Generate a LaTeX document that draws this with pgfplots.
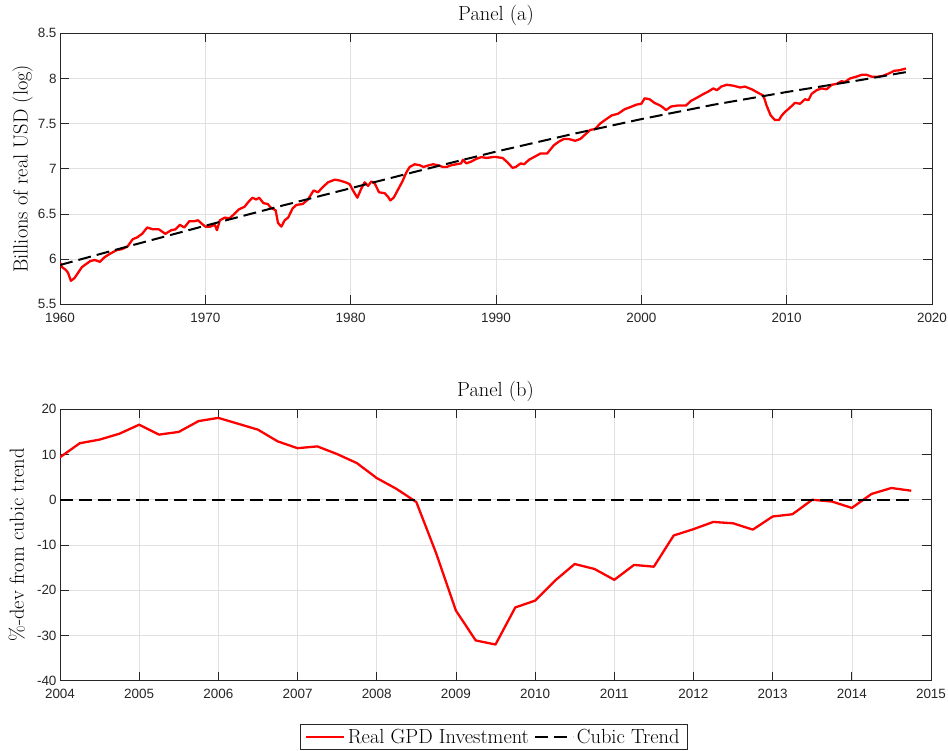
\documentclass[border=0pt]{standalone}
\usepackage{pgfplots}
\pgfplotsset{compat=1.18}
\usepackage{fontspec}
\newfontfamily\ticksf{Liberation Sans}
\definecolor{axgray}{gray}{0.15}
\definecolor{gridgray}{gray}{0.88}
\newcommand\bigf{\fontsize{20.5}{24}\selectfont}
\newcommand\tickf{\ticksf\fontsize{13.5}{16}\selectfont}

\pgfplotstableread{
x y
1960.00 5.96
1960.15 5.91
1960.40 5.88
1960.55 5.85
1960.75 5.76
1961.00 5.79
1961.50 5.91
1961.75 5.94
1962.10 5.98
1962.40 5.99
1962.75 5.97
1963.05 6.02
1963.45 6.06
1963.90 6.10
1964.25 6.11
1964.65 6.14
1965.00 6.22
1965.30 6.24
1965.65 6.28
1966.00 6.35
1966.40 6.33
1966.80 6.33
1967.25 6.28
1967.65 6.32
1967.95 6.33
1968.25 6.38
1968.55 6.35
1968.90 6.42
1969.25 6.42
1969.50 6.43
1969.70 6.40
1970.00 6.36
1970.35 6.36
1970.65 6.38
1970.80 6.32
1971.00 6.43
1971.35 6.46
1971.65 6.45
1972.00 6.50
1972.30 6.55
1972.70 6.58
1973.00 6.64
1973.25 6.68
1973.50 6.66
1973.70 6.68
1974.00 6.62
1974.30 6.61
1974.50 6.57
1974.84 6.54
1975.00 6.40
1975.23 6.36
1975.46 6.43
1975.70 6.46
1976.00 6.56
1976.26 6.60
1976.70 6.61
1977.06 6.66
1977.45 6.76
1977.75 6.74
1978.10 6.80
1978.44 6.85
1978.90 6.88
1979.25 6.87
1979.65 6.85
1979.93 6.83
1980.16 6.76
1980.46 6.68
1980.73 6.78
1980.96 6.85
1981.20 6.81
1981.42 6.86
1981.65 6.84
1981.95 6.74
1982.34 6.73
1982.57 6.69
1982.73 6.65
1982.96 6.68
1983.26 6.77
1983.56 6.86
1983.83 6.96
1984.06 7.02
1984.40 7.05
1984.75 7.04
1985.00 7.02
1985.40 7.04
1985.67 7.05
1986.00 7.04
1986.35 7.02
1986.60 7.02
1986.93 7.04
1987.27 7.05
1987.60 7.06
1987.73 7.10
1987.96 7.06
1988.30 7.08
1988.65 7.11
1989.00 7.13
1989.33 7.12
1989.80 7.13
1990.00 7.13
1990.45 7.12
1990.80 7.07
1991.14 7.01
1991.36 7.02
1991.70 7.06
1991.93 7.05
1992.27 7.10
1992.73 7.14
1993.07 7.17
1993.52 7.17
1993.98 7.26
1994.32 7.30
1994.66 7.33
1995.00 7.33
1995.45 7.31
1995.80 7.33
1996.14 7.38
1996.48 7.43
1996.82 7.44
1997.16 7.50
1997.50 7.54
1997.95 7.59
1998.40 7.61
1998.86 7.66
1999.20 7.68
1999.66 7.71
2000.00 7.72
2000.23 7.78
2000.57 7.77
2000.90 7.73
2001.30 7.70
2001.48 7.68
2001.70 7.65
2002.05 7.69
2002.50 7.70
2003.07 7.70
2003.40 7.75
2003.86 7.79
2004.30 7.83
2004.66 7.86
2004.96 7.89
2005.20 7.87
2005.50 7.91
2005.87 7.93
2006.33 7.92
2006.80 7.90
2007.13 7.91
2007.60 7.88
2008.05 7.84
2008.40 7.81
2008.62 7.70
2008.90 7.59
2009.20 7.54
2009.47 7.54
2009.66 7.59
2009.89 7.63
2010.18 7.67
2010.57 7.73
2010.92 7.72
2011.26 7.77
2011.50 7.76
2011.72 7.83
2012.06 7.87
2012.40 7.89
2012.75 7.88
2013.10 7.93
2013.44 7.94
2013.78 7.97
2014.00 7.96
2014.36 8.00
2014.80 8.02
2015.16 8.04
2015.50 8.04
2015.85 8.02
2016.30 8.02
2016.65 8.03
2017.10 8.06
2017.40 8.085
2017.73 8.09
2018.20 8.11
}\investA

\pgfplotstableread{
x y
1960 5.935
1965 6.155
1970 6.37
1975 6.58
1980 6.785
1985 6.99
1990 7.19
1995 7.375
2000 7.55
2005 7.71
2010 7.85
2015 7.98
2018.2 8.07
}\trendA

\pgfplotstableread{
x y
2004.00 9.4
2004.25 12.5
2004.50 13.3
2004.75 14.6
2005.00 16.6
2005.25 14.4
2005.50 15.0
2005.75 17.4
2006.00 18.1
2006.25 16.8
2006.50 15.5
2006.75 12.9
2007.00 11.4
2007.25 11.8
2007.50 10.1
2007.75 8.1
2008.00 4.8
2008.25 2.4
2008.50 -0.5
2008.75 -11.8
2009.00 -24.5
2009.25 -31.1
2009.50 -32.0
2009.75 -23.8
2010.00 -22.3
2010.25 -17.9
2010.50 -14.2
2010.75 -15.3
2011.00 -17.7
2011.25 -14.4
2011.50 -14.8
2011.75 -7.9
2012.00 -6.5
2012.25 -4.9
2012.50 -5.2
2012.75 -6.6
2013.00 -3.7
2013.25 -3.2
2013.50 0.0
2013.75 -0.4
2014.00 -1.8
2014.25 1.3
2014.50 2.6
2014.75 2.0
}\devB

\pgfplotsset{
  mystyle/.style={
    scale only axis,
    axis line style={axgray, line width=0.8bp},
    every tick/.style={axgray, line width=0.8bp},
    major tick length=9bp,
    tick align=inside,
    grid=major,
    major grid style={gridgray, line width=0.6bp},
    ticklabel style={font=\tickf, text=axgray},
    xticklabel style={yshift=-5bp},
    /pgf/number format/assume math mode=true,
    /pgf/number format/1000 sep={},
    every axis title/.style={at={(0.5,1)}, anchor=south, inner sep=0pt, yshift=7bp, font=\bigf},
    label style={font=\bigf},
  },
  redline/.style={red, line width=2.3bp, line join=round,
    legend image code/.code={\draw[##1] (0bp,0bp) -- (38bp,0bp);}},
  dashline/.style={black, line width=2bp, dash pattern=on 13bp off 6bp,
    legend image code/.code={\draw[##1] (0bp,0bp) -- (38bp,0bp);}},
}

\begin{document}
\begin{tikzpicture}
\path[use as bounding box] (0,0) rectangle (948bp,751bp);

\begin{axis}[mystyle,
  at={(60bp,446.7bp)}, anchor=south west,
  width=872bp, height=271bp,
  xmin=1960, xmax=2020, ymin=5.5, ymax=8.5,
  xtick={1960,1970,...,2020},
  ytick={5.5,6,6.5,7,7.5,8,8.5},
  title={Panel (a)},
  ylabel={Billions of real USD (log)},
  every axis y label/.style={at={(axis description cs:-0.043,0.5)}, rotate=90, anchor=center, font=\bigf},
]
\addplot[redline] table[x=x,y=y] {\investA};
\addplot[dashline] table[x=x,y=y] {\trendA};
\end{axis}

\begin{axis}[mystyle,
  at={(60bp,70.3bp)}, anchor=south west,
  width=871bp, height=271.4bp,
  xmin=2004, xmax=2015, ymin=-40, ymax=20,
  xtick={2004,2005,...,2015},
  ytick={-40,-30,...,20},
  title={Panel (b)},
  ylabel={\%-dev from cubic trend},
  every axis y label/.style={at={(axis description cs:-0.0497,0.5)}, rotate=90, anchor=center, font=\bigf},
  legend columns=2,
  legend style={at={(axis description cs:0.4977,-0.1595)}, anchor=north,
    draw=axgray, line width=0.8bp, font=\bigf, inner xsep=5bp, inner ysep=2bp,
    nodes={inner sep=2.5bp},
    /tikz/every even column/.append style={column sep=3bp}},
]
\addplot[redline] table[x=x,y=y] {\devB};
\addlegendentry{Real GPD Investment}
\addplot[dashline] coordinates {(2004,0) (2014.75,0)};
\addlegendentry{Cubic Trend}
\end{axis}
\end{tikzpicture}
\end{document}
